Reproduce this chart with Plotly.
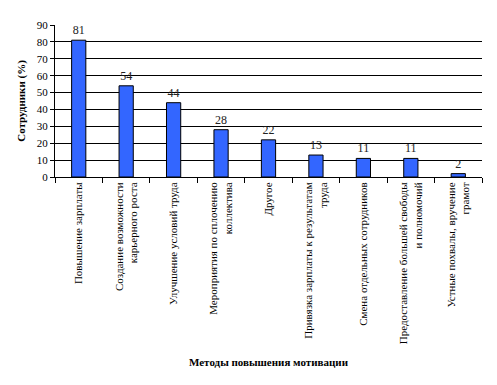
import plotly.graph_objects as go

categories = [
    "Повышение зарплаты",
    "Создание возможности<br>карьерного роста",
    "Улучшение условий труда",
    "Мероприятия по сплочению<br>коллектива",
    "Другое",
    "Привязка зарплаты к результатам<br>труда",
    "Смена отдельных сотрудников",
    "Предоставление большей свободы<br>и полномочий",
    "Устные похвалы, вручение<br>грамот",
]
values = [81, 54, 44, 28, 22, 13, 11, 11, 2]
y_ticks = list(range(0, 100, 10))

FONT = "Liberation Serif"

fig = go.Figure(
    go.Bar(
        x=categories,
        y=values,
        marker=dict(color="#3366FF", line=dict(color="black", width=1)),
        text=[str(v) for v in values],
        textposition="outside",
        textfont=dict(family=FONT, size=12, color="#222222"),
        cliponaxis=False,
    )
)

fig.update_layout(
    width=489,
    height=369,
    margin=dict(l=47, r=15, t=17, b=200),
    paper_bgcolor="white",
    plot_bgcolor="white",
    bargap=0.7,
    showlegend=False,
    font=dict(family=FONT, size=11, color="black"),
    xaxis=dict(
        automargin=False,
        tickangle=-90,
        showline=True,
        linecolor="black",
        linewidth=1,
        ticks="outside",
        ticklen=5,
        tickson="boundaries",
        tickcolor="black",
        showgrid=False,
        tickfont=dict(family=FONT, size=11, color="black"),
    ),
    yaxis=dict(
        automargin=False,
        range=[0, 90],
        tickvals=y_ticks,
        showline=True,
        linecolor="black",
        linewidth=1,
        ticks="outside",
        ticklen=4,
        tickcolor="black",
        showgrid=True,
        gridcolor="black",
        gridwidth=1,
        zeroline=False,
        tickfont=dict(family=FONT, size=11, color="black"),
        title=dict(text="<b>Сотрудники (%)</b>", font=dict(family=FONT, size=11), standoff=8),
    ),
    annotations=[
        dict(
            text="<b>Методы повышения мотивации</b>",
            xref="paper", yref="paper",
            x=0.5, y=-1.217,
            xanchor="center", yanchor="middle",
            showarrow=False,
            font=dict(family=FONT, size=11, color="black"),
        )
    ],
)

fig.write_html("out.html")
